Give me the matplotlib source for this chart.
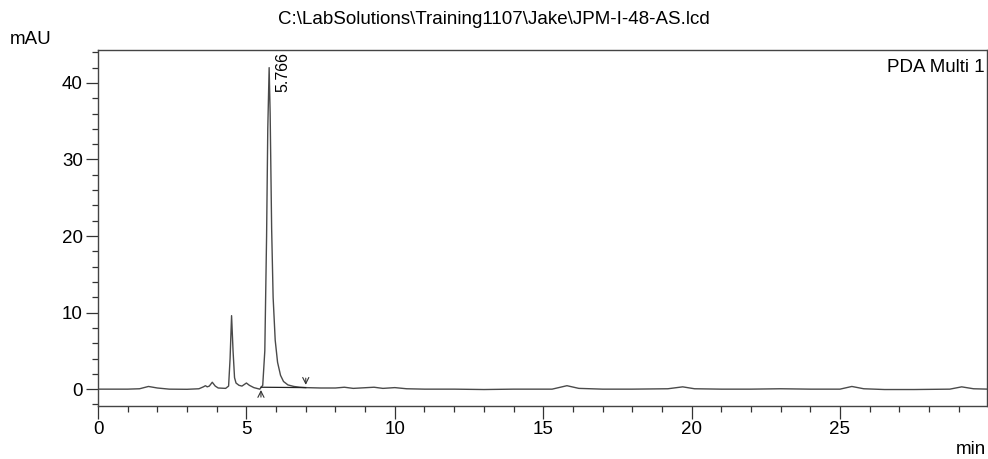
import matplotlib
matplotlib.use('Agg')
import matplotlib.pyplot as plt
from matplotlib.ticker import MultipleLocator

plt.rcParams['font.family'] = ['Liberation Sans', 'DejaVu Sans']

# chromatogram trace (min, mAU)
time_min = [0.0, 1.0, 1.4, 1.7, 2.0, 2.4, 3.0, 3.4, 3.55, 3.62, 3.68, 3.75, 3.85, 3.95,
            4.05, 4.3, 4.40, 4.45, 4.50, 4.55, 4.60, 4.65, 4.75, 4.85, 5.0, 5.1, 5.25,
            5.45, 5.55, 5.62, 5.68, 5.72, 5.766, 5.80, 5.85, 5.90, 5.97, 6.05, 6.15,
            6.25, 6.4, 6.6, 6.8, 7.0, 7.5, 8.0, 8.3, 8.6, 9.3, 9.6, 10.0, 10.4, 11.0,
            12.0, 13.0, 14.0, 15.3, 15.8, 16.2, 17.0, 18.0, 19.2, 19.7, 20.1, 21.0,
            22.0, 23.0, 24.0, 25.0, 25.4, 25.8, 26.5, 27.5, 28.7, 29.1, 29.5, 30.0]
signal_mau = [0.0, 0.0, 0.05, 0.35, 0.15, 0.0, -0.02, 0.05, 0.3, 0.45, 0.3, 0.4, 0.9, 0.4,
              0.15, 0.1, 0.4, 4.0, 9.6, 5.0, 1.5, 0.8, 0.5, 0.4, 0.8, 0.5, 0.2,
              0.0, 0.5, 5.0, 20.0, 34.0, 42.0, 36.0, 21.0, 12.0, 6.4, 3.5, 1.8,
              1.0, 0.55, 0.35, 0.25, 0.2, 0.15, 0.15, 0.25, 0.1, 0.25, 0.1, 0.2, 0.05, 0.0,
              0.0, -0.05, 0.0, 0.0, 0.45, 0.1, 0.0, 0.0, 0.05, 0.3, 0.05, 0.0,
              0.0, 0.05, 0.0, 0.0, 0.35, 0.05, -0.05, -0.05, 0.0, 0.3, 0.05, 0.0]

# integrated peak
peak_rt = 5.766
peak_label = '5.766'
peak_start = (5.49, 0.25)
peak_end = (7.0, 0.2)

fig = plt.figure(figsize=(9.88, 4.59), dpi=100)
ax = fig.add_axes([0.0992, 0.1155, 0.9, 0.7755])

ax.plot(time_min, signal_mau, color='#4a4a4a', lw=1.0)

# baseline of the integrated peak + start/end markers
ax.plot([peak_start[0], peak_end[0]], [peak_start[1], peak_end[1]], color='#222222', lw=0.9)
ax.annotate('', xy=peak_start, xytext=(peak_start[0], -1.4),
            arrowprops=dict(arrowstyle='->', color='#333333', lw=0.8, mutation_scale=11))
ax.annotate('', xy=peak_end, xytext=(peak_end[0], 1.8),
            arrowprops=dict(arrowstyle='->', color='#333333', lw=0.8, mutation_scale=11))

ax.text(peak_rt + 0.45, 44.0, peak_label, rotation=90, ha='center', va='top', fontsize=11.5)

ax.set_xlim(0, 29.96)
ax.set_ylim(-2.2, 44.3)
ax.xaxis.set_major_locator(MultipleLocator(5))
ax.xaxis.set_minor_locator(MultipleLocator(1))
ax.yaxis.set_major_locator(MultipleLocator(10))
ax.yaxis.set_minor_locator(MultipleLocator(2))
ax.tick_params(which='major', direction='out', length=9, width=0.9, color='#333333',
               labelsize=13.5, pad=2)
ax.tick_params(which='minor', direction='out', length=4, width=0.9, color='#333333')
for s in ax.spines.values():
    s.set_color('#444444')
    s.set_linewidth(1.0)

fig.text(0.5, 1 - 19 / 459, r'C:\LabSolutions\Training1107\Jake\JPM-I-48-AS.lcd',
         ha='center', va='center', fontsize=13.5)
fig.text(10 / 988, 1 - 40 / 459, 'mAU', ha='left', va='center', fontsize=13.5)
fig.text(986 / 988, 1 - 450 / 459, 'min', ha='right', va='center', fontsize=13.5)
ax.text(0.997, 0.975, 'PDA Multi 1', transform=ax.transAxes, ha='right', va='top', fontsize=13.5)

fig.savefig('out.png', dpi=100)
